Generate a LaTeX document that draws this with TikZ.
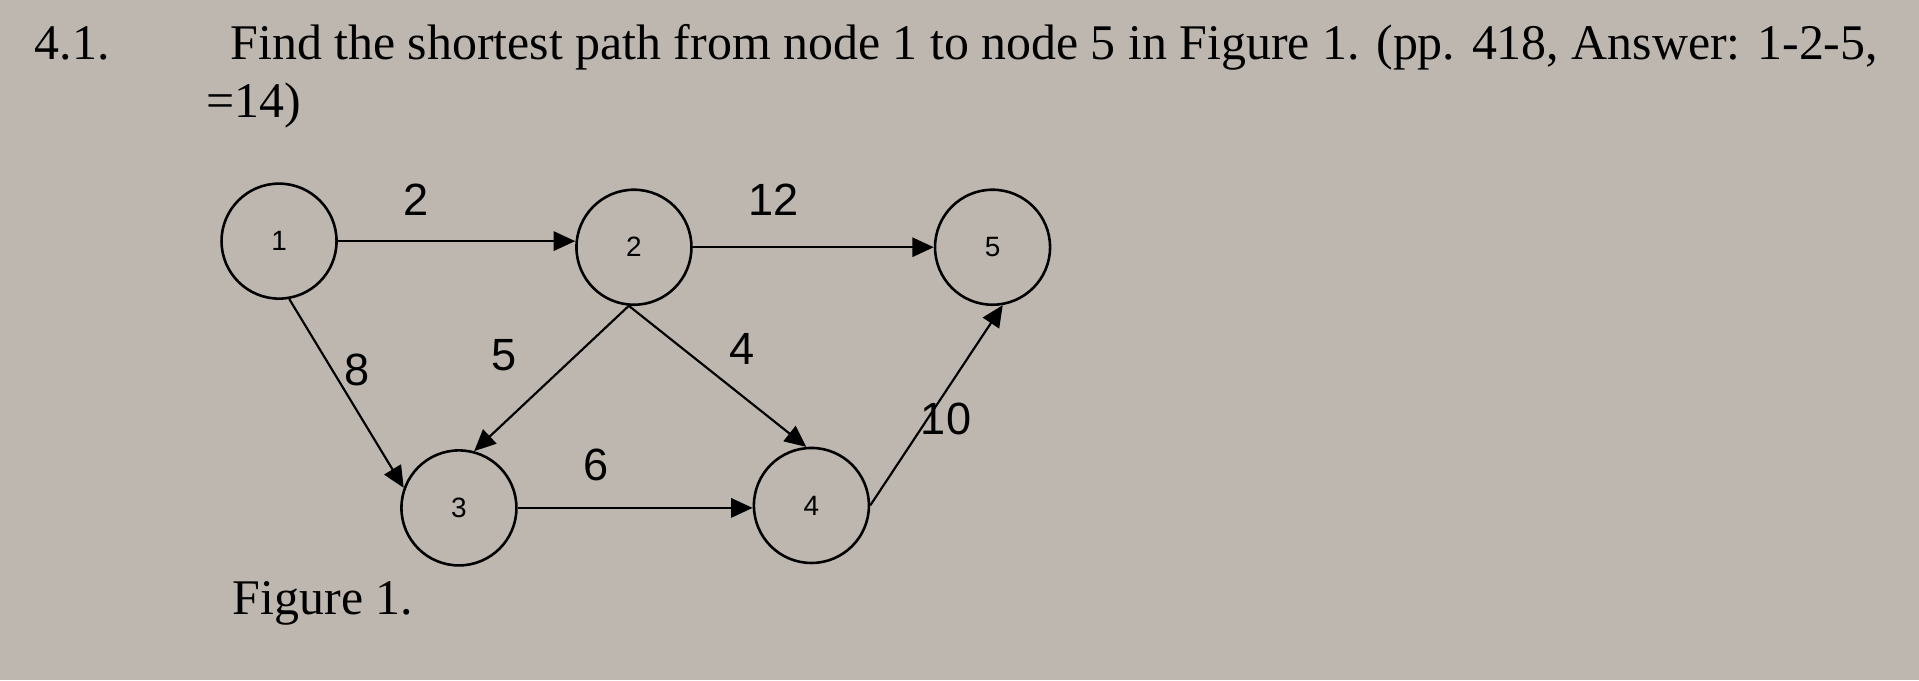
\documentclass[tikz,border=0pt]{standalone}
\usepackage{fontspec}
\setmainfont{Liberation Serif}
\newfontfamily\arialf{Liberation Sans}
\usetikzlibrary{arrows.meta}
\definecolor{paper}{HTML}{BDB7AF}
\begin{document}
\begin{tikzpicture}[x=0.02cm,y=-0.02cm,
  vert/.style={circle,draw,line width=1.2pt,minimum size=1.88cm,inner sep=0pt,font=\arialf\fontsize{13}{15}\selectfont},
  edge/.style={line width=1pt,-{Triangle[length=10pt,width=9pt]}},
  wlab/.style={font=\arialf\fontsize{21}{24}\selectfont},
  txt/.style={anchor=base west,inner sep=0pt,font=\fontsize{23.2}{26}\selectfont}]
\fill[paper] (0,0) rectangle (1568,556);
\useasboundingbox (0,0) rectangle (1568,556);
\node[txt] (num) at (28,49) {4.1.};
\node[txt] (l1) at (188,49) {Find the shortest path from node 1 to node 5 in Figure 1. (pp. 418, Answer: 1-2-5,};
\node[txt] (l2) at (168,96) {=14)};
\node[txt] (fig) at (190,502) {Figure 1.};
\node[vert] (n1) at (228,197) {1};
\node[vert] (n2) at (518,202) {2};
\node[vert] (n5) at (811,202) {5};
\node[vert] (n3) at (375,415) {3};
\node[vert] (n4) at (663,413) {4};
\draw[edge] (n1.east) -- (n1.east -| n2.west);
\draw[edge] (n2.east) -- (n2.east -| n5.west);
\draw[edge] (n1.-80) -- (n3.160);
\draw[edge] (n2.-95) -- (n3.75);
\draw[edge] (n2.-95) -- (n4.95);
\draw[edge] (n3.east) -- (n3.east -| n4.west);
\draw[edge] (n4.east) -- (n5.-80);
\node[wlab] (w12) at (340,163) {2};
\node[wlab] (w25) at (632,163) {12};
\node[wlab] (w13) at (292,302) {8};
\node[wlab] (w23) at (412,290) {5};
\node[wlab] (w24) at (606,285) {4};
\node[wlab] (w34) at (487,380) {6};
\node[wlab] (w45) at (773,342) {10};
\end{tikzpicture}
\end{document}
